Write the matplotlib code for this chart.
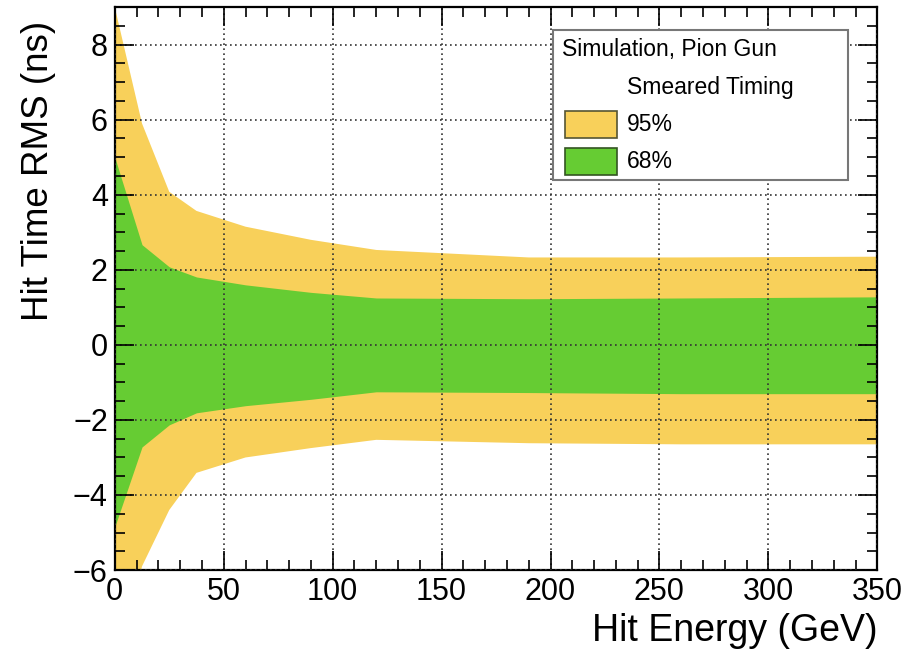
import numpy as np
import matplotlib.pyplot as plt
from matplotlib.patches import Rectangle
from matplotlib.ticker import MultipleLocator

plt.rcParams['font.family'] = ['Liberation Sans', 'DejaVu Sans']

# band edges vs hit energy
energy = [0, 12.5, 25, 37.5, 60, 90, 120, 190, 260, 350]
up95 = [9.0, 5.9, 4.08, 3.57, 3.15, 2.8, 2.53, 2.33, 2.33, 2.35]
up68 = [5.0, 2.67, 2.08, 1.81, 1.6, 1.4, 1.25, 1.23, 1.25, 1.28]
lo68 = [-4.85, -2.72, -2.13, -1.81, -1.62, -1.45, -1.25, -1.27, -1.3, -1.3]
lo95 = [-9.0, -5.9, -4.4, -3.41, -3.0, -2.75, -2.53, -2.62, -2.65, -2.65]

col95 = '#f8d05a'
col68 = '#66cc33'

fig = plt.figure(figsize=(9.11, 6.5), dpi=100)
ax = fig.add_axes([0.126, 0.123, 0.837, 0.866])

ax.fill_between(energy, lo95, up95, color=col95, lw=0, zorder=1)
ax.fill_between(energy, lo68, up68, color=col68, lw=0, zorder=2)

ax.set_xlim(0, 350)
ax.set_ylim(-6, 9)
ax.xaxis.set_major_locator(MultipleLocator(50))
ax.xaxis.set_minor_locator(MultipleLocator(10))
ax.yaxis.set_major_locator(MultipleLocator(2))
ax.yaxis.set_minor_locator(MultipleLocator(0.5))
ax.tick_params(which='both', direction='in', top=True, right=True, labelsize=22, width=1.2)
ax.tick_params(which='major', length=14, pad=5)
ax.tick_params(which='minor', length=7)
ax.grid(True, which='major', ls=(0, (1, 2)), color='#333333', lw=1.2, zorder=3)
ax.set_axisbelow(False)
for s in ax.spines.values():
    s.set_linewidth(1.6)

ax.set_xlabel('Hit Energy (GeV)', fontsize=27, loc='right', labelpad=4)
ax.set_ylabel('Hit Time RMS (ns)', fontsize=26.5)
ax.yaxis.set_label_coords(-0.077, 0.975, transform=ax.transAxes)
ax.yaxis.label.set_horizontalalignment('right')

# legend box drawn by hand, ROOT style
ax.add_patch(Rectangle((0.575, 0.693), 0.386, 0.266, transform=ax.transAxes,
                       facecolor='white', edgecolor='#777777', lw=1.5, zorder=5))
ax.text(0.587, 0.925, 'Simulation, Pion Gun', transform=ax.transAxes,
        fontsize=16.5, va='center', zorder=6)
ax.text(0.672, 0.857, 'Smeared Timing', transform=ax.transAxes,
        fontsize=16.5, va='center', zorder=6)
ax.add_patch(Rectangle((0.591, 0.768), 0.067, 0.048, transform=ax.transAxes,
                       facecolor=col95, edgecolor='#555533', lw=1.2, zorder=6))
ax.add_patch(Rectangle((0.591, 0.701), 0.067, 0.048, transform=ax.transAxes,
                       facecolor=col68, edgecolor='#335522', lw=1.2, zorder=6))
ax.text(0.672, 0.792, '95%', transform=ax.transAxes, fontsize=16.5, va='center', zorder=6)
ax.text(0.672, 0.725, '68%', transform=ax.transAxes, fontsize=16.5, va='center', zorder=6)

fig.savefig('out.png', dpi=100)
